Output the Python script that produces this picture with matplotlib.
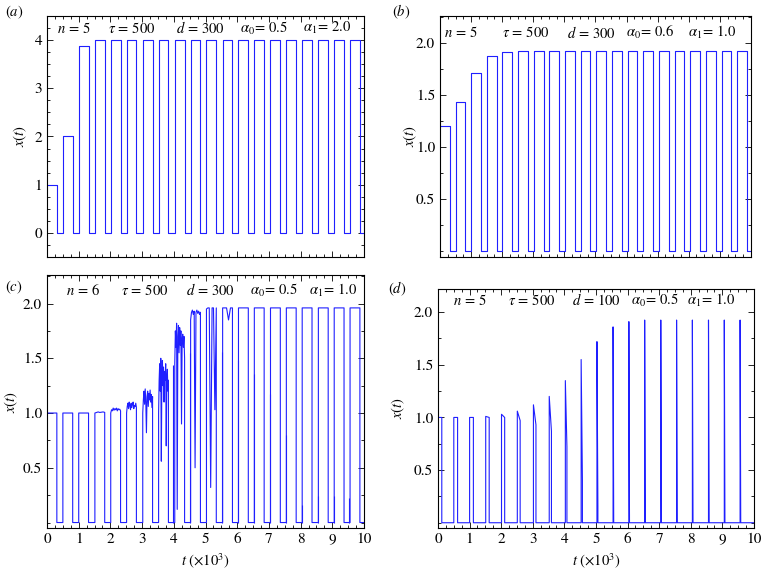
import matplotlib
matplotlib.use("Agg")
import matplotlib.pyplot as plt
from matplotlib.ticker import MultipleLocator, FixedLocator

plt.rcParams['font.family'] = ['STIXGeneral', 'DejaVu Serif']
plt.rcParams['mathtext.fontset'] = 'stix'

LINE = (0.12, 0.12, 1.0)

# pulse rise times (x 10^3)
starts = [0.0, 0.5, 1.0, 1.51, 2.01, 2.51, 3.02, 3.52, 4.03, 4.53,
          5.03, 5.54, 6.04, 6.54, 7.05, 7.55, 8.05, 8.56, 9.06, 9.56]

# (a) n=5, d=300, alpha0=0.5, alpha1=2.0
heights_a = [1.0, 2.0, 3.87, 4.0, 4.0, 4.0, 4.0, 4.0, 4.0, 4.0,
             4.0, 4.0, 4.0, 4.0, 4.0, 4.0, 4.0, 4.0, 4.0, 4.0]

# (b) n=5, d=300, alpha0=0.6, alpha1=1.0
heights_b = [1.2, 1.43, 1.71, 1.875, 1.915, 1.925, 1.925, 1.925, 1.925, 1.925,
             1.925, 1.925, 1.925, 1.925, 1.925, 1.925, 1.925, 1.925, 1.925, 1.925]

# (c) n=6: values sampled along each high phase (noisy pulses)
levels_c = [
    [1.0],
    [1.0],
    [1.0],
    [1.0, 1.005, 1.01, 1.005, 1.008, 1.01, 1.006],
    [1.0, 1.03, 1.02, 1.045, 1.025, 1.04, 1.03, 1.045, 1.02, 1.04, 1.03, 1.035, 1.02],
    [1.0, 1.06, 1.09, 1.04, 1.1, 1.07, 1.03, 1.09, 1.05, 1.08, 1.1, 1.04, 1.07,
     1.06, 1.09, 1.05],
    [1.0, 1.12, 1.2, 1.08, 1.22, 1.1, 0.82, 1.15, 1.2, 1.06, 1.18, 1.12, 1.21,
     1.1, 1.17, 1.05, 1.15],
    [1.0, 1.3, 1.45, 1.2, 1.5, 0.56, 1.35, 1.48, 1.25, 1.42, 1.1, 1.38, 1.3,
     1.45, 0.7, 1.33, 1.4, 1.2, 1.3],
    [1.45, 1.75, 1.6, 1.82, 0.12, 1.7, 1.8, 1.55, 1.78, 1.62, 1.75, 0.9, 1.68,
     1.72, 1.6, 1.7, 1.5],
    [1.85, 1.92, 1.94, 1.9, 1.93, 0.5, 1.92, 1.94, 1.91, 1.93, 1.9, 1.92],
    [1.95, 1.96, 1.96, 0.32, 1.96, 1.96, 1.03, 1.96],
    [1.96, 1.96, 1.96, 1.85, 1.96, 1.96],
    [1.96],
    [1.96],
    [1.96],
    [1.96],
    [1.96],
    [1.96],
    [1.96],
    [1.96],
]
# (c) short aborted rises just before a pulse: time, height
spike_t_c = [3.99, 4.52, 5.52, 6.02, 6.52, 7.03, 7.53, 8.03, 8.54, 9.04, 9.54]
spike_h_c = [1.44, 1.55, 1.56, 1.48, 1.36, 1.17, 0.8, 0.16, 0.24, 0.24, 0.22]

# (d) n=5, d=100: narrow pulses, peak then value at the end of the pulse
peaks_d = [1.0, 1.0, 1.0, 1.01, 1.03, 1.06, 1.12, 1.2, 1.35, 1.55,
           1.72, 1.86, 1.91, 1.925, 1.925, 1.925, 1.925, 1.925, 1.925, 1.925]
tails_d = [1.0, 1.0, 1.0, 1.0, 1.0, 0.97, 0.93, 0.87, 0.72, 0.4,
           0.15, 0.02, 0.0, 0.0, 0.0, 0.0, 0.0, 0.0, 0.0, 0.0]
widths_d = [0.12, 0.12, 0.12, 0.11, 0.1, 0.09, 0.08, 0.07, 0.05, 0.04,
            0.03, 0.02, 0.02, 0.02, 0.02, 0.02, 0.02, 0.02, 0.02, 0.02]

params = {
    'a': [r'$n\,=\,5$', r'$\tau\,=\,500$', r'$d\,=\,300$', r'$\alpha_0\!=\,0.5$', r'$\alpha_1\!=\,2.0$'],
    'b': [r'$n\,=\,5$', r'$\tau\,=\,500$', r'$d\,=\,300$', r'$\alpha_0\!=\,0.6$', r'$\alpha_1\!=\,1.0$'],
    'c': [r'$n\,=\,6$', r'$\tau\,=\,500$', r'$d\,=\,300$', r'$\alpha_0\!=\,0.5$', r'$\alpha_1\!=\,1.0$'],
    'd': [r'$n\,=\,5$', r'$\tau\,=\,500$', r'$d\,=\,100$', r'$\alpha_0\!=\,0.5$', r'$\alpha_1\!=\,1.0$'],
}
param_x = {
    'a': [0.085, 0.268, 0.483, 0.685, 0.883],
    'b': [0.068, 0.277, 0.486, 0.675, 0.875],
    'c': [0.114, 0.307, 0.516, 0.716, 0.902],
    'd': [0.101, 0.297, 0.5, 0.687, 0.864],
}
param_y = {'a': 0.95, 'b': 0.93, 'c': 0.94, 'd': 0.952}

HIGH = 0.31


def noisy_trace(levels):
    ts, xs = [], []
    for s, lv in zip(starts, levels):
        if s > 0:
            ts.append(s)
            xs.append(0.0)
        if len(lv) == 1:
            ts += [s, s + HIGH]
            xs += [lv[0], lv[0]]
        else:
            n = len(lv)
            for i, v in enumerate(lv):
                ts.append(s + HIGH * i / (n - 1))
                xs.append(v)
        ts.append(s + HIGH)
        xs.append(0.0)
    ts.append(10.0)
    xs.append(0.0)
    return ts, xs


def narrow_trace(peaks, tails, widths):
    ts, xs = [], []
    for s, p, e, w in zip(starts, peaks, tails, widths):
        if s > 0:
            ts.append(s)
            xs.append(0.0)
        ts += [s, s + w, s + w]
        xs += [p, e, 0.0]
    ts.append(10.0)
    xs.append(0.0)
    return ts, xs


def style(ax, ylim, yticks, bottom_labels):
    ax.set_xlim(0, 10)
    ax.set_ylim(*ylim)
    ax.xaxis.set_major_locator(FixedLocator(range(11)))
    ax.xaxis.set_minor_locator(MultipleLocator(0.25))
    ax.yaxis.set_major_locator(FixedLocator(yticks))
    ax.yaxis.set_minor_locator(MultipleLocator(0.25))
    ax.tick_params(which='both', direction='in', top=True, right=True, labelsize=11)
    ax.tick_params(which='major', length=4, width=0.6)
    ax.tick_params(which='minor', length=2.5, width=0.6)
    if not bottom_labels:
        ax.tick_params(labelbottom=False)
    for sp in ax.spines.values():
        sp.set_linewidth(0.8)


fig = plt.figure(figsize=(7.62, 5.71), dpi=100)
ax_a = fig.add_axes([0.0617, 0.550, 0.416, 0.422])
ax_b = fig.add_axes([0.5774, 0.550, 0.408, 0.422])
ax_c = fig.add_axes([0.0617, 0.0753, 0.416, 0.443])
ax_d = fig.add_axes([0.5748, 0.0753, 0.4147, 0.4186])

t, x = noisy_trace([[h] for h in heights_a])
ax_a.plot(t, x, color=LINE, lw=0.8)
style(ax_a, (-0.5, 4.5), [0, 1, 2, 3, 4], False)
ax_a.set_yticklabels(['0', '1', '2', '3', '4'])

t, x = noisy_trace([[h] for h in heights_b])
ax_b.plot(t, x, color=LINE, lw=0.8)
style(ax_b, (-0.055, 2.26), [0.5, 1.0, 1.5, 2.0], False)

t, x = noisy_trace(levels_c)
ax_c.plot(t, x, color=LINE, lw=0.8)
ax_c.vlines(spike_t_c, 0, spike_h_c, color=LINE, lw=0.8)
style(ax_c, (-0.05, 2.26), [0.5, 1.0, 1.5, 2.0], True)

t, x = narrow_trace(peaks_d, tails_d, widths_d)
ax_d.plot(t, x, color=LINE, lw=0.8)
style(ax_d, (-0.05, 2.22), [0.5, 1.0, 1.5, 2.0], True)

for ax in (ax_b, ax_c, ax_d):
    ax.set_yticklabels(['0.5', '1.0', '1.5', '2.0'])

ylab_x = {'a': -0.058, 'b': -0.069, 'c': -0.084, 'd': -0.097}
for key, ax in zip('abcd', (ax_a, ax_b, ax_c, ax_d)):
    for px, s in zip(param_x[key], params[key]):
        ax.text(px, param_y[key], s, transform=ax.transAxes, ha='center',
                va='center', fontsize=10.5)
    ax.set_ylabel(r'$x(t)$', fontsize=10.5)
    ax.yaxis.set_label_coords(ylab_x[key], 0.5)

ax_c.set_xlabel(r'$t$ ($\times 10^3$)', fontsize=10.5)
ax_c.xaxis.set_label_coords(0.5, -0.09)
ax_d.set_xlabel(r'$t$ ($\times 10^3$)', fontsize=10.5)
ax_d.xaxis.set_label_coords(0.5, -0.096)

fig.text(0.018, 0.979, r'($a$)', ha='center', va='center', fontsize=10.5)
fig.text(0.526, 0.979, r'($b$)', ha='center', va='center', fontsize=10.5)
fig.text(0.018, 0.496, r'($c$)', ha='center', va='center', fontsize=10.5)
fig.text(0.521, 0.494, r'($d$)', ha='center', va='center', fontsize=10.5)

fig.savefig("out.png", dpi=100)
